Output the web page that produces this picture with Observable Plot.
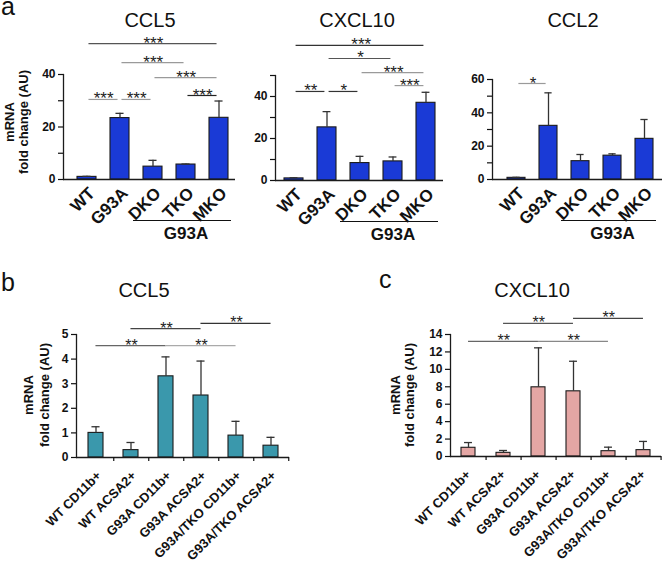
<!DOCTYPE html>
<html><head><meta charset="utf-8">
<script src="https://cdn.jsdelivr.net/npm/d3@7"></script>
<script src="https://cdn.jsdelivr.net/npm/@observablehq/plot@0.6"></script>
<style>
body{margin:0;background:#fff;}
#fig{position:relative;width:662px;height:566px;overflow:hidden;font-family:"Liberation Sans",Arial,sans-serif;color:#111;}
#fig svg{position:absolute;overflow:visible;}
.t{position:absolute;white-space:nowrap;line-height:1;color:#111;}
.yl{position:absolute;white-space:nowrap;width:200px;height:14px;line-height:14px;text-align:center;font-weight:bold;font-size:13px;color:#111;transform:rotate(-90deg);transform-origin:50% 50%;}
</style></head><body><div id="fig"></div>
<script>
// ---------- data ----------
const catsA = ["WT", "G93A", "DKO", "TKO", "MKO"];
const groupA = {label: "G93A", from: "DKO", mid: "TKO", to: "MKO"};

const ccl5A = [1.0, 23.4, 4.9, 5.7, 23.5];
const ccl5AErr = [0.2, 1.8, 2.4, 0.2, 6.4];
const ccl5ASig = [
  {from: "WT", to: "MKO", y: 51.8, label: "***"},
  {from: "G93A", to: "TKO", y: 44.5, label: "***"},
  {from: "DKO", to: "MKO", y: 38.8, label: "***"},
  {from: "WT", to: "G93A", y: 30.5, label: "***"},
  {from: "G93A", to: "DKO", y: 30.5, label: "***"},
  {from: "TKO", to: "MKO", y: 32.0, label: "***"}
];

const cxcl10A = [1.0, 25.3, 8.3, 9.1, 37.0];
const cxcl10AErr = [0.3, 7.5, 3.2, 2.1, 5.0];
const cxcl10ASig = [
  {from: "WT", to: "MKO", y: 64.3, label: "***"},
  {from: "G93A", to: "TKO", y: 58.1, label: "*"},
  {from: "DKO", to: "MKO", y: 51.4, label: "***"},
  {from: "WT", to: "G93A", y: 42.4, label: "**"},
  {from: "G93A", to: "DKO", y: 42.4, label: "*"},
  {from: "TKO", to: "MKO", y: 45.2, label: "***"}
];

const ccl2A = [1.0, 32.2, 11.0, 14.3, 24.4];
const ccl2AErr = [0.3, 19.8, 4.0, 1.1, 11.6];
const ccl2ASig = [
  {from: "WT", to: "G93A", y: 57.6, label: "*"}
];

const catsBC = ["WT CD11b+", "WT ACSA2+", "G93A CD11b+", "G93A ACSA2+", "G93A/TKO CD11b+", "G93A/TKO ACSA2+"];

const ccl5B = [1.0, 0.3, 3.3, 2.52, 0.89, 0.48];
const ccl5BErr = [0.25, 0.31, 0.79, 1.4, 0.58, 0.34];
const ccl5BSig = [
  {from: "WT CD11b+", to: "G93A CD11b+", y: 4.55, label: "**"},
  {from: "WT ACSA2+", to: "G93A ACSA2+", y: 5.24, label: "**"},
  {from: "G93A CD11b+", to: "G93A/TKO CD11b+", y: 4.55, label: "**"},
  {from: "G93A ACSA2+", to: "G93A/TKO ACSA2+", y: 5.45, label: "**"}
];

const cxcl10C = [1.0, 0.42, 7.94, 7.48, 0.61, 0.73];
const cxcl10CErr = [0.6, 0.27, 4.53, 3.45, 0.46, 1.0];
const cxcl10CSig = [
  {from: "WT CD11b+", to: "G93A CD11b+", y: 13.2, label: "**"},
  {from: "WT ACSA2+", to: "G93A ACSA2+", y: 15.27, label: "**"},
  {from: "G93A CD11b+", to: "G93A/TKO CD11b+", y: 13.2, label: "**"},
  {from: "G93A ACSA2+", to: "G93A/TKO ACSA2+", y: 15.84, label: "**"}
];

const yLabelLines = ["mRNA", "fold change (AU)"];

// ---------- styles (not data) ----------
const strokeCCL5A = ["#555", "#9a9a9a", "#9a9a9a", "#9a9a9a", "#9a9a9a", "#222"];
const strokeCXCL10A = ["#333", "#555", "#9a9a9a", "#333", "#333", "#9a9a9a"];
const strokeCCL2A = ["#9a9a9a"];
const strokeB = ["#666", "#444", "#aaa", "#333"];
const strokeC = ["#666", "#555", "#888", "#444"];

const fig = document.getElementById("fig");
const FONT = "'Liberation Sans', Arial, sans-serif";

function panel(o) {
  const n = o.cats.length;
  const [mt, mr, mb, ml] = o.margin;
  const step = (o.width - ml - mr - o.insetL) / n;
  const bw = step * (1 - o.pad);
  const idx = c => o.cats.indexOf(c);
  const rows = o.cats.map((c, i) => ({cat: c, mean: o.mean[i], top: o.mean[i] + o.err[i]}));
  const marks = [
    Plot.barY(rows, {x: "cat", y: "mean", fill: o.fill, stroke: "#1b1b1b", strokeWidth: 1.1}),
    Plot.ruleX(rows, {x: "cat", y1: "mean", y2: "top", stroke: "#333", strokeWidth: 1.3}),
    Plot.tickY(rows, {x: "cat", y: "top", stroke: "#333", strokeWidth: 1.3, insetLeft: (bw - 8) / 2, insetRight: (bw - 8) / 2}),
    Plot.ruleY([0], {stroke: "#1b1b1b", strokeWidth: 1.3}),
    Plot.frame({anchor: "left", stroke: "#1b1b1b", strokeWidth: 1.3}),
    Plot.axisY({ticks: o.yTicks, tickFormat: d => (o.yLabels.includes(d) ? String(d) : ""), tickSize: 5, tickPadding: 3, fontSize: 12, fontWeight: "bold", label: null, strokeWidth: 1.2}),
    Plot.axisX({tickSize: 0, tickRotate: -45, tickPadding: o.xPad, fontSize: o.xFont, fontWeight: "bold", label: null, dx: o.xDx})
  ];
  if (o.catTicks) {
    marks.push(Plot.axisX({tickSize: 4, tickFormat: () => "", label: null, dx: step / 2, strokeWidth: 1.2}));
  }
  o.sig.forEach((s, i) => {
    marks.push(Plot.ruleY([s], {x1: "from", x2: "to", y: "y", stroke: o.sigStroke[i], strokeWidth: 1.2,
      insetLeft: bw / 2 + o.sigInset, insetRight: bw / 2 + o.sigInset}));
    marks.push(Plot.text([s], {x: "from", y: "y", text: "label", dx: (idx(s.to) - idx(s.from)) * step / 2,
      dy: 5, lineAnchor: "bottom", fontSize: o.starSize, fontWeight: "normal", fill: "#222"}));
  });
  if (o.group) {
    marks.push(Plot.ruleY([o.group], {x1: "from", x2: "to", y: () => 0, dy: 41, insetLeft: -10, insetRight: -3, stroke: "#111", strokeWidth: 1.2}));
    marks.push(Plot.text([o.group], {x: "mid", y: () => 0, text: "label", dy: 54, fontSize: 17, fontWeight: "bold", fill: "#111"}));
  }
  const svg = Plot.plot({
    width: o.width, height: o.height,
    marginTop: mt, marginRight: mr, marginBottom: mb, marginLeft: ml,
    x: {domain: o.cats, paddingInner: o.pad, paddingOuter: o.pad / 2, align: 0.5, insetLeft: o.insetL, label: null},
    y: {domain: o.yDomain, label: null},
    style: {fontFamily: FONT, fontSize: "12px", background: "transparent", color: "#111", overflow: "visible"},
    marks
  });
  svg.style.left = o.left + "px";
  svg.style.top = o.top + "px";
  svg.style.maxWidth = "none";
  fig.appendChild(svg);
}

const d10 = (a, b, s) => d3.range(a, b + s / 2, s);

panel({cats: catsA, mean: ccl5A, err: ccl5AErr, sig: ccl5ASig, sigStroke: strokeCCL5A, fill: "#1a3ad6",
  left: 0, top: 0, width: 240, height: 250, margin: [74, 5, 71, 63], insetL: 6, pad: 0.43,
  yDomain: [0, 40], yTicks: d10(0, 40, 10), yLabels: [0, 20, 40], xPad: 11, xDx: 5, xFont: 17, catTicks: false,
  sigInset: 2, starSize: 17, group: groupA});

panel({cats: catsA, mean: cxcl10A, err: cxcl10AErr, sig: cxcl10ASig, sigStroke: strokeCXCL10A, fill: "#1a3ad6",
  left: 230, top: 0, width: 215, height: 250, margin: [75, 2, 70, 45], insetL: 0, pad: 0.43,
  yDomain: [0, 50], yTicks: d10(0, 50, 10), yLabels: [0, 20, 40], xPad: 11, xDx: 5, xFont: 17, catTicks: false,
  sigInset: 2, starSize: 17, group: groupA});

panel({cats: catsA, mean: ccl2A, err: ccl2AErr, sig: ccl2ASig, sigStroke: strokeCCL2A, fill: "#1a3ad6",
  left: 440, top: 0, width: 222, height: 250, margin: [79, 0, 71, 52], insetL: 5.5, pad: 0.43,
  yDomain: [0, 60], yTicks: d10(0, 60, 10), yLabels: [0, 20, 40, 60], xPad: 11, xDx: 5, xFont: 17, catTicks: false,
  sigInset: 2, starSize: 17, group: groupA});

panel({cats: catsBC, mean: ccl5B, err: ccl5BErr, sig: ccl5BSig, sigStroke: strokeB, fill: "#3a98ac",
  left: 0, top: 260, width: 300, height: 306, margin: [74, 11, 109, 76], insetL: 0, pad: 0.58,
  yDomain: [0, 5], yTicks: d10(0, 5, 1), yLabels: d10(0, 5, 1), xPad: 16, xDx: 3, xFont: 13, catTicks: true,
  sigInset: 0, starSize: 16});

panel({cats: catsBC, mean: cxcl10C, err: cxcl10CErr, sig: cxcl10CSig, sigStroke: strokeC, fill: "#e4a6a4",
  left: 331, top: 260, width: 331, height: 306, margin: [74, 1, 110, 119], insetL: 0, pad: 0.6,
  yDomain: [0, 14], yTicks: d10(0, 14, 2), yLabels: d10(0, 14, 2), xPad: 16, xDx: 0, xFont: 13, catTicks: true,
  sigInset: 0, starSize: 16});

// ---------- titles, axis titles and panel letters ----------
function label(text, x, y, size, center, lh) {
  const d = document.createElement("div");
  d.className = "t";
  d.textContent = text;
  d.style.fontSize = size + "px";
  d.style.top = y + "px";
  if (lh) d.style.lineHeight = lh + "px";
  if (center) { d.style.left = (x - 100) + "px"; d.style.width = "200px"; d.style.textAlign = "center"; }
  else d.style.left = x + "px";
  fig.appendChild(d);
}
function ylabel(lines, xs, cy) {
  lines.forEach((line, i) => {
    const d = document.createElement("div");
    d.className = "yl";
    d.textContent = line;
    d.style.left = (xs[i] - 100) + "px";
    d.style.top = (cy - 7) + "px";
    fig.appendChild(d);
  });
}
label("a", 1, 0, 25, false, 13);
label("CCL5", 150, 10, 20, true);
label("CXCL10", 357, 10, 20, true);
label("CCL2", 573, 10, 20, true);
label("b", 1, 270, 25, false);
label("CCL5", 144, 280, 20, true);
label("c", 379, 267, 25, false);
label("CXCL10", 532, 280, 20, true);
ylabel(yLabelLines, [10, 24], 122);
ylabel(yLabelLines, [29, 45], 395);
ylabel(yLabelLines, [396, 410], 395);
</script></body></html>
